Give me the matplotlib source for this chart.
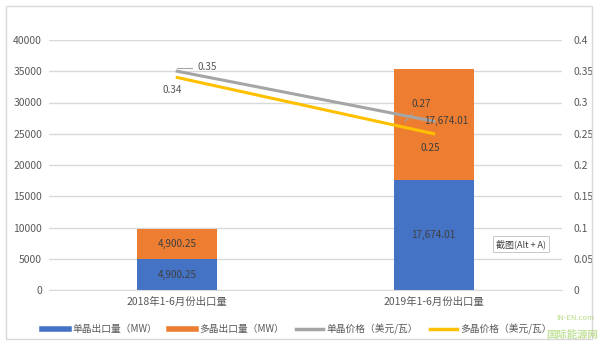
import matplotlib
matplotlib.use("Agg")
import matplotlib.pyplot as plt
from matplotlib.patches import Rectangle
import matplotlib.lines as mlines

plt.rcParams['font.family'] = ['Noto Sans CJK SC', 'DejaVu Sans']

categories = ["2018年1-6月份出口量", "2019年1-6月份出口量"]
mono_export = [4900.25, 17674.01]
poly_export = [4900.25, 17674.01]
mono_price = [0.35, 0.27]
poly_price = [0.34, 0.25]
left_ticks = [0, 5000, 10000, 15000, 20000, 25000, 30000, 35000, 40000]
right_ticks = [0, 0.05, 0.1, 0.15, 0.2, 0.25, 0.3, 0.35, 0.4]
right_labels = ["0", "0.05", "0.1", "0.15", "0.2", "0.25", "0.3", "0.35", "0.4"]
bar_labels_mono = ["4,900.25", "17,674.01"]
bar_labels_poly = ["4,900.25", "17,674.01"]

BLUE = "#4472C4"
ORANGE = "#ED7D31"
GRAY = "#A5A5A5"
YELLOW = "#FFC000"
TXT = "#595959"
GRID = "#D9D9D9"

fig = plt.figure(figsize=(6.0, 3.48), dpi=100)
fig.patches.append(Rectangle((6/600, 1-339/348), 586/600, 333/348, transform=fig.transFigure,
                             fill=False, edgecolor=GRID, linewidth=1.0))

ax = fig.add_axes([49/600, 1-290/348, 513/600, 250/348])
x = [0, 1]
w = 0.31
ax.bar(x, mono_export, width=w, color=BLUE, zorder=2)
ax.bar(x, poly_export, width=w, bottom=mono_export, color=ORANGE, zorder=2)
ax.set_xlim(-0.5, 1.5)
ax.set_ylim(0, 40000)
ax.set_yticks(left_ticks)
ax.set_yticklabels([str(t) for t in left_ticks])
ax.set_xticks(x)
ax.set_xticklabels(categories)
ax.grid(axis='y', color=GRID, linewidth=1.0, zorder=0)
ax.set_axisbelow(True)
for s in ax.spines.values():
    s.set_visible(False)
ax.spines['bottom'].set_visible(True)
ax.spines['bottom'].set_color(GRID)
ax.tick_params(axis='both', length=0, labelsize=7.5, colors=TXT, pad=5)
ax.tick_params(axis='y', pad=5)

for i in range(2):
    ax.text(x[i], mono_export[i] / 2, bar_labels_mono[i], ha='center', va='center',
            fontsize=7.2, color="#404040", zorder=5)
ax.text(x[0], mono_export[0] + poly_export[0] / 2, bar_labels_poly[0], ha='center', va='center',
        fontsize=7.2, color="#404040", zorder=5)

ax2 = ax.twinx()
ax2.set_ylim(0, 0.4)
ax2.set_yticks(right_ticks)
ax2.set_yticklabels(right_labels)
for s in ax2.spines.values():
    s.set_visible(False)
ax2.tick_params(axis='y', length=0, labelsize=7.5, colors=TXT, pad=8)
ax2.plot(x, mono_price, color=GRAY, linewidth=2.2, zorder=3)
ax2.plot(x, poly_price, color=YELLOW, linewidth=2.2, zorder=3)

# price labels
ax2.annotate("0.35", xy=(x[0], mono_price[0]), xytext=(x[0] + 0.08, mono_price[0] + 0.006),
             fontsize=7.2, color=TXT, ha='left', va='center',
             arrowprops=dict(arrowstyle='-', color=GRAY, lw=0.8,
                             connectionstyle="angle,angleA=0,angleB=90,rad=0"))
ax2.text(x[0] - 0.02, poly_price[0] - 0.02, "0.34", fontsize=7.2, color=TXT, ha='center', va='center')
ax2.annotate("0.27", xy=(x[1] - 0.12, mono_price[1] - 0.004), xytext=(x[1] - 0.05, 0.298),
             fontsize=7.2, color="#404040", ha='center', va='center',
             arrowprops=dict(arrowstyle='-', color=GRAY, lw=0.8))
ax2.text(x[1] + 0.05, 0.27, bar_labels_poly[1], fontsize=7.2, color="#404040", ha='center', va='center')
ax2.text(x[1] - 0.015, 0.227, "0.25", fontsize=7.2, color="#404040", ha='center', va='center')

# tooltip overlay from screenshot
fig.text(496/600, 1-244/348, "截图(Alt + A)", fontsize=6.5, color="#404040", ha='left', va='center',
         bbox=dict(boxstyle='square,pad=0.3', fc='white', ec='#BFBFBF', lw=0.6))

# legend
handles = [
    mlines.Line2D([], [], color=BLUE, linewidth=4),
    mlines.Line2D([], [], color=ORANGE, linewidth=4),
    mlines.Line2D([], [], color=GRAY, linewidth=2.5),
    mlines.Line2D([], [], color=YELLOW, linewidth=2.5),
]
labels = ["单晶出口量（MW）", "多晶出口量（MW）", "单晶价格（美元/瓦）", "多晶价格（美元/瓦）"]
fig.legend(handles, labels, loc='center', bbox_to_anchor=(297/600, 1-329/348), ncol=4, frameon=False,
           fontsize=7, handlelength=2.8, handletextpad=0.35, columnspacing=1.2, labelcolor=TXT)

# watermark
fig.text(556/600, 1-318/348, "IN-EN.com", fontsize=5.5, color="#8CC63F", alpha=0.6, ha='left', va='center')
fig.text(598/600, 1-335/348, "国际能源网", fontsize=7.5, color="#8CC63F", alpha=0.5, ha='right', va='center',
         fontweight='bold')

fig.savefig("out.png", dpi=100)
